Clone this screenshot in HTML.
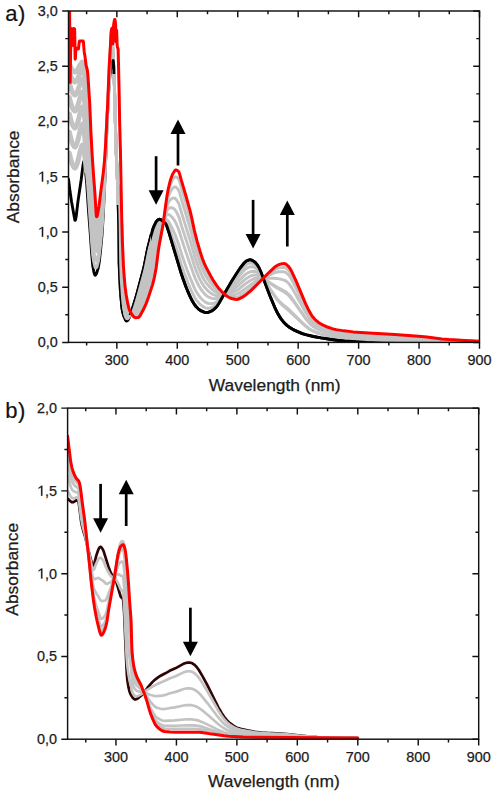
<!DOCTYPE html>
<html><head><meta charset="utf-8"><title>Absorbance spectra</title><style>html,body{margin:0;padding:0;background:#fff;}body{width:495px;height:795px;overflow:hidden;font-family:"Liberation Sans",sans-serif;}svg{display:block;}</style></head><body>
<svg width="495" height="795" viewBox="0 0 495 795">
<defs><clipPath id="ca"><rect x="68.5" y="11.0" width="411" height="331.4"/></clipPath>
<clipPath id="cblk"><rect x="151" y="0" width="400" height="400"/><rect x="111.5" y="56" width="4" height="18"/></clipPath>
<clipPath id="cthin"><rect x="116" y="205" width="8" height="112"/><rect x="128.5" y="215" width="22.5" height="100"/></clipPath>
<clipPath id="cb"><rect x="67.6" y="408.1" width="411.1" height="331.1"/></clipPath></defs>
<g clip-path="url(#ca)" fill="none" stroke-linejoin="round" stroke-linecap="round">
<path d="M68.5,179.2 L70,191.31 L71.5,201.42 L74.75,219.51 L75,220.41 L75.25,220.4 L75.75,218.82 L76.25,215.73 L78,201.09 L81.25,179.18 L83,165.25 L83.75,161.58 L84,161.14 L84.25,161.24 L84.5,162.02 L85.25,167.61 L86.75,184.34 L88.5,210.61 L90.25,233.32 L91.5,251.74 L92.75,265.81 L93.75,271.34 L94.25,273.4 L94.75,274.76 L95,275.11 L95.25,275.2 L95.75,274.87 L96.25,274.05 L96.75,272.85 L98.25,267.81 L99.25,262.04 L100.5,251.05 L102,234.8 L103.25,215.28 L105.25,171.2 L107,125.83 L108.75,90.76 L109.75,77.35 L110.25,72.41 L111,66.83 L111.75,63.14 L112.75,60.84 L113,60.57 L113.25,60.58 L113.75,67.16 L114.25,78.52 L116,147.01 L117.75,187.51 L118.25,201.7 L118.75,224.03 L119.25,262.93 L119.75,278.11 L121,296.71 L121.75,305.2 L122.25,309.3 L123,312.81 L124.25,317.12 L125.25,319.56 L125.75,320.37 L126.25,320.85 L126.5,320.97 L127,320.95 L127.75,320.36 L128.5,319.23 L129.25,317.65 L130.5,314.33 L133.75,304.72 L135.25,299.83 L137.5,291.83 L143.25,270.28 L144.5,264.83 L147.75,248.46 L151,235.63 L152.75,229.51 L153.5,227.44 L154.75,224.57 L155.75,222.57 L156.5,221.37 L157.25,220.52 L158.25,219.8 L159,219.41 L159.75,219.31 L160.25,219.44 L161,219.87 L165,222.84 L166,224.05 L166.75,225.73 L169,232.5 L181.5,274.3 L183.75,280.87 L185.75,286.26 L188.25,292.43 L190.25,296.96 L191.5,299.44 L193.5,302.92 L195,305.23 L196.25,306.82 L198.25,308.77 L200,310.15 L201.25,310.89 L203.5,311.85 L205,312.35 L206.5,312.59 L207.5,312.54 L208.75,312.21 L211,311.28 L212.5,310.4 L214.25,309.05 L216,307.37 L217.25,305.77 L218.75,303.43 L222.75,296.41 L232,280.82 L237.25,272.44 L240.25,268 L244,263.25 L245.75,261.47 L246.5,261 L248.5,260.14 L249.5,259.87 L250.5,259.81 L251.25,259.96 L252.25,260.4 L254,261.5 L255,262.3 L257,264.65 L259,267.78 L261,272.27 L270,295.93 L274.5,306.8 L277.5,313.11 L279.25,316.08 L281.25,319.11 L283.25,321.72 L285,323.6 L287.25,325.62 L289.75,327.5 L292.25,329.06 L294.75,330.37 L302.25,333.57 L306.75,334.94 L313.5,336.51 L321,337.9 L330,339.29 L337.25,340.21 L344.75,340.95 L366.5,342.54 L382,343.14 L397.75,343.48 L479.5,343.8" stroke="#000" stroke-width="2.9"/>
<path d="M69.4,153.18 L70.9,159.84 L72.15,164.01 L72.9,165.55 L73.9,167.18 L74.65,167.91 L75.15,167.97 L75.65,167.44 L76.15,166.42 L77.65,162.18 L79.9,152.43 L81.65,146.33 L82.15,145.25 L82.4,145.02 L82.65,145.05 L82.9,145.37 L83.4,146.81 L84.15,150.75 L85.15,158.63 L87.65,185.12 L91.65,242.87 L92.65,254.68 L93.65,261.47 L94.65,266.05 L95.15,267.4 L95.4,267.88 L95.65,268.06 L96.4,267.71 L96.9,267.02 L98.4,261.4 L99.15,256.96 L100.9,241.45 L102.15,227.72 L102.9,216.79 L104.15,192.54 L105.4,164.99 L106.9,127.05 L108.9,87.17 L109.9,73.59 L111.15,62.51 L111.4,60.99 L111.9,59.6 L112.4,58.94 L112.65,58.84 L112.9,59.38 L113.65,65.5 L113.9,69.84 L114.65,93.65 L115.9,142.6 L117.9,192.3 L118.65,219.07 L119.4,265.19 L119.65,275.62 L120.15,286.34 L120.65,292.06 L121.65,295.34 L122.65,305.15 L123.4,309.43 L124.4,313.75 L125.15,316.17 L126.15,318.22 L126.65,318.67 L127.65,318.74 L127.9,318.65 L128.9,317.44 L129.65,316.04 L133.65,306.18 L135.9,299.57 L138.4,291.36 L143.4,273.68 L144.65,268.37 L147.15,256.16 L148.4,250.88 L151.9,237.77 L152.9,234.52 L153.9,231.78 L155.4,228.14 L156.65,225.5 L158.15,223.05 L159.15,221.97 L159.65,221.64 L160.65,221.41 L162.65,221.72 L164.9,221.59 L165.9,221.88 L166.65,222.74 L168.15,225.79 L169.15,228.2 L174.9,243.95 L178.4,254.77 L181.4,264.63 L184.15,272.75 L188.15,283.34 L191.4,290.95 L194.65,297.41 L196.15,299.79 L197.65,301.71 L199.4,303.67 L200.9,305.04 L203.4,306.74 L205.4,307.78 L206.4,308.12 L207.65,308.29 L209.15,308.17 L211.4,307.69 L212.65,307.21 L214.15,306.4 L215.65,305.38 L216.65,304.48 L219.15,301.36 L232.15,282.39 L238.65,273.18 L241.4,269.6 L244.4,266.09 L245.9,264.72 L247.15,264.01 L248.9,263.26 L249.9,263 L250.9,262.95 L252.65,263.46 L254.9,264.65 L256.65,266.25 L258.4,268.36 L259.9,270.86 L263.15,278.04 L264.65,280.8 L266.9,284.23 L270.65,290.36 L275.4,297.43 L277.4,300.08 L280.15,303.09 L282.9,305.74 L289.65,311.36 L302.4,323.5 L305.4,326.15 L308.9,328.76 L311.4,330.37 L314.15,331.74 L317.4,333.03 L320.9,334.13 L324.9,335.15 L330.4,336.32 L335.15,337.12 L347.4,338.51 L365.4,339.87 L385.65,340.76 L425.65,341.84 L444.15,342.51 L479.4,343.12" stroke="#c3c3c3" stroke-width="2.9"/>
<path d="M69.4,153.18 L70.9,159.84 L72.15,164.01 L72.9,165.55 L73.9,167.18 L74.65,167.91 L75.15,167.97 L75.4,167.78 L75.9,166.98 L77.4,162.94 L78.15,160.28 L79.9,152.43 L81.4,147.1 L82.15,145.25 L82.4,145.02 L82.65,145.05 L82.9,145.37 L83.4,146.81 L84.4,152.47 L85.4,160.96 L86.4,171.26" stroke="#c3c3c3" stroke-width="5"/>
<path d="M69.4,132.18 L70.9,138.84 L72.15,143.01 L72.9,144.55 L73.9,146.18 L74.65,146.91 L75.15,146.97 L75.65,146.44 L76.15,145.42 L77.65,141.18 L79.9,131.43 L81.65,125.33 L82.15,124.25 L82.4,124.02 L82.65,124.06 L82.9,124.45 L83.4,126.19 L84.15,130.9 L84.9,137.62 L87.65,170.11 L89.65,198.38 L91.65,230 L92.65,242.42 L93.9,251.79 L95.15,258.22 L95.4,259.18 L95.9,260.14 L96.4,260.64 L96.65,260.72 L96.9,260.41 L98.4,254.56 L99.15,250.03 L101.15,232.3 L102.4,218.48 L103.15,207.16 L104.4,183.86 L105.65,156.97 L106.9,125.84 L108.4,94.63 L109.15,81.42 L110.15,67.88 L111.15,58.34 L111.4,56.63 L111.65,55.95 L112.65,56.24 L112.9,57.12 L113.15,59.2 L113.9,70.29 L114.65,93.65 L115.9,142.6 L117.9,192.3 L118.65,219.07 L119.4,265.19 L119.65,275.62 L120.15,287.02 L120.4,290.68 L120.65,292.06 L120.9,290.91 L121.4,285.87 L121.65,284.73 L121.9,286.3 L122.65,297.65 L123.9,306.58 L124.65,310.31 L125.65,313.89 L126.4,315.55 L127.4,316.6 L128.15,316.59 L128.9,316.24 L129.9,314.92 L130.9,313.08 L134.4,305.89 L137.9,296.33 L143.65,277.55 L147.65,260.04 L151.9,244.31 L153.65,238.86 L157.65,228.05 L158.9,225.49 L160.15,223.94 L160.9,223.38 L162.9,222.24 L165.4,219.71 L166.65,219.45 L167.15,219.77 L168.15,220.94 L169.65,223.32 L172.65,229.1 L175.15,234.77 L178.65,244.38 L181.9,254.97 L185.9,266.64 L190.15,277.92 L194.65,288.64 L195.9,291.05 L197.15,293.13 L198.9,295.73 L200.4,297.68 L201.9,299.28 L204.15,301.29 L205.65,302.35 L206.9,302.98 L208.9,303.46 L210.4,303.61 L212.15,303.58 L213.65,303.28 L215.15,302.77 L216.15,302.27 L217.15,301.58 L219.4,299.41 L226.15,291.8 L240.15,274.78 L244.4,270.06 L245.9,268.74 L248.4,267.37 L250.4,266.68 L251.9,266.69 L254.15,267.28 L255.4,267.85 L257.15,269.14 L258.9,270.89 L260.4,273.1 L264.15,279.76 L270.9,290.19 L276.4,297.92 L277.9,299.69 L280.4,302.27 L282.65,304.38 L285.9,306.95 L289.65,310.17 L302.65,322.99 L305.9,325.94 L309.4,328.62 L311.9,330.24 L315.15,331.82 L318.65,333.15 L322.4,334.27 L326.9,335.36 L331.65,336.34 L335.9,337.02 L347.9,338.36 L365.65,339.7 L384.65,340.54 L425.4,341.7 L444.4,342.42 L479.4,343.07" stroke="#c3c3c3" stroke-width="2.9"/>
<path d="M69.4,132.18 L70.9,138.84 L72.15,143.01 L72.9,144.55 L73.9,146.18 L74.65,146.91 L75.15,146.97 L75.4,146.78 L75.9,145.98 L77.4,141.94 L78.15,139.28 L79.9,131.43 L81.4,126.1 L82.15,124.25 L82.4,124.02 L82.65,124.06 L82.9,124.45 L83.4,126.19 L84.4,132.95 L85.4,142.93 L86.4,154.77" stroke="#c3c3c3" stroke-width="5"/>
<path d="M69.4,113.93 L70.9,120.25 L72.15,124.21 L72.9,125.67 L73.9,127.22 L74.65,127.91 L75.15,127.97 L75.65,127.49 L76.15,126.56 L77.65,122.68 L79.9,113.79 L81.4,108.91 L81.9,107.64 L82.4,107.02 L82.65,107.06 L82.9,107.41 L83.65,110.21 L84.4,115.21 L85.15,121.92 L87.65,150.11 L89.65,178.66 L91.65,212.84 L92.65,226.07 L93.65,235.18 L95.4,247.49 L96.4,251.44 L96.65,251.71 L96.9,251.4 L98.15,246.63 L99.15,240.8 L101.4,221.07 L102.65,207.48 L103.9,188.15 L104.9,169.88 L106.9,124.21 L109.4,74.67 L110.4,60.81 L111.4,51.21 L111.65,50.45 L111.9,50.63 L112.4,51.86 L112.9,54.49 L113.15,57.44 L113.65,65.5 L114.15,77.59 L115.9,142.6 L116.65,163.07 L117.65,185.23 L118.15,200.21 L118.65,219.07 L119.4,265.19 L119.65,275.62 L120.15,287.02 L120.4,290.68 L120.65,292.06 L120.9,288.7 L121.4,273.94 L121.65,270.58 L121.9,272.66 L122.65,287.67 L123.4,295.63 L124.15,301.48 L125.15,307.17 L126.15,310.92 L126.65,312.19 L127.4,313.6 L128.4,314.51 L129.15,314.49 L129.9,314.14 L131.15,312.73 L133.65,309.44 L135.4,306.28 L138.4,299.48 L139.65,296.07 L143.65,284.01 L148.9,263.55 L152.15,252.19 L155.9,240.21 L158.65,230.52 L160.15,227.22 L162.9,222.92 L165.4,217.22 L166.4,215.36 L167.4,214.61 L168.65,214.53 L169.15,214.7 L169.9,215.21 L171.4,216.5 L172.65,217.83 L173.9,219.56 L175.65,222.5 L178.15,228.2 L179.15,230.92 L183.4,244.63 L187.9,257.87 L194.15,275.65 L195.65,279.33 L197.15,282.5 L199.15,286.29 L200.65,288.81 L202.15,290.95 L204.15,293.44 L205.65,294.97 L207.15,296.16 L208.65,297.02 L210.65,297.93 L211.9,298.38 L213.15,298.66 L215.65,298.76 L217.15,298.43 L219.15,297.45 L225.4,293.14 L229.15,290.12 L237.15,282.78 L241.4,278.34 L244.4,275.36 L245.65,274.27 L248.4,272.6 L250.4,271.71 L252.4,271.39 L254.9,271.47 L257.15,272.26 L259.15,273.5 L260.15,274.48 L263.15,278.14 L264.65,279.49 L266.9,280.93 L270.65,283.68 L276.65,287.73 L285.15,292.55 L288.15,294.98 L289.9,296.77 L292.65,300.25 L305.15,318.01 L307.9,321.38 L310.15,323.89 L312.65,326.13 L316.15,328.43 L319.65,330.14 L323.9,331.7 L331.4,333.75 L337.65,334.88 L347.9,336.08 L362.4,337.27 L378.15,338.14 L423.9,340.07 L445.9,341.45 L479.4,342.5" stroke="#c3c3c3" stroke-width="2.9"/>
<path d="M69.4,113.93 L70.9,120.25 L72.15,124.21 L72.9,125.67 L73.9,127.22 L74.65,127.91 L75.15,127.97 L75.4,127.8 L75.9,127.07 L77.4,123.38 L78.15,120.95 L79.9,113.79 L81.4,108.91 L82.15,107.23 L82.4,107.02 L82.65,107.06 L82.9,107.41 L83.4,109 L84.4,115.21 L85.4,124.45 L86.4,135.52" stroke="#c3c3c3" stroke-width="5"/>
<path d="M69.4,97.67 L70.9,103.65 L72.15,107.41 L72.9,108.79 L73.9,110.27 L74.65,110.92 L75.15,110.97 L75.65,110.54 L76.15,109.7 L77.65,106.19 L79.9,98.14 L81.4,93.73 L81.9,92.58 L82.4,92.02 L82.65,92.05 L82.9,92.38 L83.65,94.96 L84.4,99.61 L85.4,108.23 L87.9,135.8 L89.65,161.41 L91.65,197.82 L92.9,214.6 L93.65,222.04 L95.65,239.09 L96.4,243.37 L96.65,243.82 L96.9,243.52 L98.15,238.7 L99.15,232.72 L101.65,211.08 L102.9,197.71 L104.15,179.47 L105.15,161.96 L106.9,122.79 L109.65,67.93 L110.4,56.98 L111.15,48.55 L111.4,46.46 L111.65,45.63 L111.9,45.97 L112.4,48.18 L112.9,52.17 L113.65,65.5 L114.15,77.93 L115.9,142.6 L116.65,163.07 L117.65,185.23 L118.15,200.21 L118.65,219.07 L119.4,265.19 L119.65,275.62 L120.15,287.02 L120.4,290.68 L120.65,292.06 L120.9,286.77 L121.4,263.49 L121.65,258.2 L121.9,260.71 L122.4,273.51 L122.9,282.58 L123.65,291.32 L124.4,297.76 L125.4,304.06 L126.4,308.16 L127.65,311.48 L128.4,312.72 L129.15,313.29 L129.9,313.41 L130.9,312.99 L133.15,311.48 L134.15,310.56 L135.15,309.24 L136.9,306.29 L138.4,303.54 L139.4,301.27 L142.9,291.88 L144.65,286.39 L148.15,273.46 L155.15,249.69 L156.65,243.65 L158.15,236.53 L159.4,232.17 L160.65,228.84 L162.9,223.52 L165.9,213.4 L166.9,210.72 L167.9,209.13 L168.9,208.15 L169.4,207.87 L170.15,207.68 L171.4,207.67 L172.15,207.79 L172.9,208.1 L174.4,209.2 L175.15,209.98 L176.4,211.92 L178.65,216.41 L179.65,219.32 L181.4,225.35 L183.65,232.42 L191.15,255.33 L194.4,265.97 L196.65,272 L199.9,279.31 L201.4,282.17 L203.15,285.07 L204.65,287.26 L206.15,289.08 L207.9,290.8 L210.4,292.77 L212.15,293.96 L213.65,294.74 L215.15,295.3 L216.4,295.61 L218.65,295.58 L220.4,295.19 L223.4,294.26 L226.9,292.95 L231.15,290.61 L237.15,286.54 L245.15,279.35 L248.9,276.88 L251.15,275.79 L254.15,275 L255.9,274.87 L257.65,275.08 L258.9,275.39 L260.15,276.01 L264.15,278.88 L270.65,283.15 L276.9,286.96 L284.9,291.19 L286.65,292.47 L289.15,294.74 L291.65,297.79 L295.9,303.75 L304.9,317.03 L308.15,321.14 L310.65,323.95 L311.9,325.13 L313.4,326.3 L316.9,328.52 L320.65,330.27 L325.15,331.83 L332.15,333.7 L338.65,334.81 L348.65,335.96 L362.9,337.11 L377.9,337.94 L423.4,339.9 L446.15,341.37 L479.4,342.45" stroke="#c3c3c3" stroke-width="2.9"/>
<path d="M69.4,97.67 L70.9,103.65 L72.15,107.41 L72.9,108.79 L73.9,110.27 L74.65,110.92 L75.15,110.97 L75.9,110.16 L77.4,106.82 L78.15,104.62 L79.9,98.14 L81.4,93.73 L82.15,92.21 L82.4,92.02 L82.65,92.05 L82.9,92.38 L83.4,93.85 L84.4,99.61 L85.4,108.23 L86.4,118.66" stroke="#c3c3c3" stroke-width="5"/>
<path d="M69.4,83.15 L70.9,88.47 L72.15,91.8 L73.65,94.06 L74.4,94.79 L74.9,94.99 L75.4,94.85 L75.9,94.29 L77.65,90.95 L80.15,83.51 L81.4,80.46 L82.15,79.18 L82.4,79.02 L82.65,79.05 L83.15,79.84 L83.65,81.53 L84.15,84.02 L84.9,89.03 L85.65,95.25 L87.65,115.1 L89.65,144.15 L91.15,174.21 L92.4,194.12 L93.4,206.24 L95.4,227.07 L96.15,233.71 L96.4,235.3 L96.65,235.94 L96.9,235.64 L97.15,234.9 L97.9,231.92 L98.65,228.08 L99.15,224.64 L102.15,199.05 L103.4,185.23 L104.4,171.43 L105.4,154.39 L106.65,126.48 L109.9,60.83 L111.15,43.98 L111.4,41.71 L111.65,40.82 L111.9,41.32 L112.4,44.52 L112.9,49.85 L113.65,65.5 L114.4,85.62 L115.9,142.6 L116.65,163.07 L117.65,185.23 L118.15,200.21 L118.65,219.07 L119.4,265.19 L119.65,275.62 L120.15,287.02 L120.4,290.68 L120.65,292.06 L120.9,284.83 L121.4,253.05 L121.65,245.83 L121.9,248.77 L122.4,263.8 L122.9,274.52 L123.65,284.9 L124.4,292.43 L125.4,299.8 L126.65,305.71 L127.4,308.34 L128.15,310.35 L128.9,311.74 L129.65,312.57 L130.4,312.85 L131.4,312.98 L133.4,312.78 L134.65,312.13 L135.9,310.86 L138.15,307.95 L139.15,306.27 L143.15,296.68 L145.15,290.79 L154.4,259.66 L156.4,251 L158.65,238.59 L160.15,232.97 L162.9,224.12 L166.15,209.44 L166.9,206.57 L168.4,202.61 L169.15,201.26 L169.9,200.23 L170.9,199.21 L172.15,198.31 L172.65,198.11 L173.9,198.06 L174.9,198.25 L175.9,199.05 L178.15,202.43 L179.15,204.63 L181.65,213.08 L190.4,241.09 L194.9,257.29 L197.9,265.92 L200.9,273.34 L202.4,276.45 L204.15,279.69 L205.65,282.06 L207.15,284.07 L210.4,287.71 L212.4,289.7 L214.4,291.3 L216.65,292.68 L218.15,293.28 L219.65,293.63 L221.9,293.88 L224.65,293.99 L227.9,293.75 L231.65,292.69 L235.4,291.14 L237.9,289.85 L245.65,283.64 L250.4,280.48 L254.4,278.5 L256.65,277.82 L258.4,277.52 L259.65,277.52 L264.15,278.34 L273.9,278.28 L279.4,278.92 L284.15,280.15 L285.15,280.54 L287.15,282.02 L288.65,283.4 L289.65,284.58 L291.9,287.87 L294.9,292.93 L305.65,312.51 L309.4,318.28 L311.9,321.45 L313.4,322.91 L315.15,324.38 L318.65,326.7 L322.9,328.74 L328.4,330.67 L333.65,332.09 L339.9,333.15 L348.4,334.16 L360.15,335.18 L371.65,335.92 L396.15,337.11 L421.15,338.51 L447.4,340.65 L479.4,342" stroke="#c3c3c3" stroke-width="2.9"/>
<path d="M69.4,83.15 L70.9,88.47 L72.15,91.8 L72.9,93.04 L73.9,94.35 L74.65,94.93 L75.15,94.98 L75.65,94.61 L76.15,93.9 L77.65,90.95 L79.9,84.17 L81.65,79.93 L82.15,79.18 L82.4,79.02 L82.65,79.05 L82.9,79.32 L83.65,81.53 L84.4,85.54 L85.4,93.07 L86.4,102.33" stroke="#c3c3c3" stroke-width="5"/>
<path d="M69.4,71.63 L70.65,75.59 L71.9,78.72 L72.4,79.62 L73.4,80.9 L74.15,81.64 L74.65,81.93 L75.15,81.98 L75.65,81.68 L76.4,80.75 L77.4,79.14 L78.15,77.64 L80.15,72.67 L81.4,70.19 L82.15,69.14 L82.65,69.03 L82.9,69.23 L83.4,70.15 L84.15,72.7 L84.9,76.47 L86.4,86.92 L87.9,100.47 L89.65,126.9 L90.9,154.08 L92.4,179.59 L95.65,219.78 L96.15,225.19 L96.4,227.24 L96.65,228.05 L96.9,227.76 L97.15,227.03 L97.9,224.04 L98.65,220.06 L99.15,216.56 L102.65,187.44 L104.15,170.75 L105.65,147.1 L109.4,67.11 L110.15,53.28 L111.4,36.97 L111.65,36 L111.9,36.67 L112.4,40.88 L112.9,47.52 L114.4,85.71 L115.9,142.6 L116.65,163.07 L117.65,185.23 L118.15,200.21 L118.65,219.07 L119.65,275.62 L120.4,290.68 L120.65,292.06 L120.9,282.9 L121.4,242.61 L121.65,233.45 L121.9,236.83 L122.65,261.45 L123.15,270.93 L124.15,284.5 L125.15,293.7 L126.4,301.29 L127.4,305.71 L128.15,308.34 L128.9,310.32 L129.65,311.7 L130.4,312.48 L131.65,313.44 L133.4,314.3 L134.9,314.25 L136.15,313.5 L138.65,311.38 L139.9,309.28 L142.4,303.89 L143.9,300.37 L145.15,297 L152.15,275.11 L153.4,270.82 L154.65,265.88 L156.4,257.25 L158.65,242.63 L160.15,235.85 L162.9,224.71 L166.4,204.87 L167.9,198.39 L168.65,195.91 L169.65,193.3 L170.65,191.25 L171.9,189.21 L172.65,188.25 L174.15,187.11 L174.65,186.9 L175.65,186.95 L176.15,187.25 L176.9,188.02 L178.4,189.9 L178.9,190.84 L179.65,192.96 L181.4,199.16 L190.15,228.28 L191.65,233.88 L194.15,244.35 L195.65,249.75 L199.4,261.33 L202.15,268.46 L204.15,272.82 L205.9,276.03 L207.9,279.13 L211.9,284.67 L213.9,287.03 L216.4,289.52 L218.65,291.26 L220.9,292.55 L223.15,293.58 L225.4,294.4 L227.15,294.9 L228.4,295.09 L230.65,295.16 L231.9,295.06 L234.9,294.58 L237.4,293.96 L238.65,293.32 L241.9,291.11 L254.4,282.05 L258.4,279.82 L259.9,279.22 L263.9,277.99 L272.9,273.47 L274.9,272.66 L277.9,271.9 L279.4,271.65 L282.15,271.71 L284.4,271.92 L285.15,272.14 L286.15,272.73 L288.65,274.98 L289.9,276.61 L291.65,279.46 L296.15,288.17 L305.65,308.2 L309.15,314.49 L311.65,318.27 L313.15,320.01 L314.9,321.73 L316.65,323.2 L318.4,324.44 L320.4,325.64 L322.65,326.78 L327.9,328.86 L333.15,330.48 L338.15,331.45 L346.15,332.53 L356.65,333.55 L368.4,334.39 L395.4,335.83 L419.65,337.41 L427.4,338.02 L441.4,339.56 L448.15,340.1 L479.4,341.65" stroke="#c3c3c3" stroke-width="2.9"/>
<path d="M69.4,71.63 L70.9,76.29 L72.15,79.2 L73.9,81.43 L74.65,81.93 L75.15,81.98 L75.65,81.68 L76.15,81.11 L77.65,78.71 L79.9,73.2 L81.65,69.75 L82.15,69.14 L82.4,69.01 L82.65,69.03 L82.9,69.23 L83.65,70.85 L84.65,75.09 L85.4,79.58 L86.4,86.92" stroke="#c3c3c3" stroke-width="5"/>
<path d="M69.4,63.85 L70.9,67.51 L72.15,69.8 L73.9,71.55 L74.65,71.95 L75.15,71.99 L75.65,71.76 L76.15,71.31 L77.65,69.47 L79.9,65.23 L81.65,62.58 L82.4,62.01 L82.9,62.15 L83.65,63.18 L84.65,65.99 L85.4,69.08 L86.4,74.36 L87.65,82.59 L87.9,85.21 L89.65,112.11 L90.9,140.77 L92.4,167.15 L93.4,181.26 L94.65,196.47 L95.9,214.7 L96.4,220.32 L96.65,221.3 L96.9,221.01 L97.15,220.28 L97.9,217.28 L98.9,211.52 L102.65,181.71 L104.4,164.08 L105.65,145.05 L107.65,104.63 L110.15,50.26 L111.4,32.9 L111.65,31.87 L111.9,32.68 L112.4,37.75 L112.9,45.54 L114.4,85.79 L115.9,142.6 L116.65,163.07 L117.65,185.23 L118.15,200.21 L118.65,219.07 L119.65,275.62 L120.4,290.68 L120.65,292.06 L120.9,281.24 L121.4,233.65 L121.65,222.84 L121.9,226.59 L122.65,253.95 L123.15,264.55 L124.15,279.66 L125.4,291.9 L126.15,296.94 L127.15,302.27 L128.15,306.61 L128.9,309.11 L129.65,310.96 L130.4,312.16 L131.9,314.12 L133.4,315.57 L134.4,316.13 L135.65,316.16 L136.15,316.04 L138.65,314.96 L139.15,314.43 L139.9,313.27 L143.15,306.92 L145.65,301.05 L147.9,294.75 L152.15,281.66 L153.9,275.31 L155.65,267.04 L156.65,260.94 L158.65,246.09 L160.15,238.31 L162.9,225.22 L166.65,200.3 L168.15,192.66 L169.9,186.32 L170.9,183.59 L172.15,180.74 L172.9,179.41 L174.4,177.46 L175.15,176.94 L175.65,176.79 L176.15,176.93 L176.9,177.38 L178.4,178.79 L178.9,179.6 L179.65,181.66 L181.4,187.94 L186.4,204.73 L190.15,218.01 L191.65,224.01 L194.4,236.46 L196.65,244.89 L200.4,257.16 L201.9,261.38 L203.65,265.78 L205.65,270.07 L207.9,274.13 L212.15,281.14 L215.15,285.35 L217.9,288.62 L220.4,291.05 L223.4,293.43 L226.65,295.52 L228.9,296.49 L231.65,297.14 L235.9,297.34 L237.65,297.18 L238.4,296.89 L242.4,294.58 L246.9,291.42 L250.4,288.62 L254.9,284.65 L258.4,281.79 L274.15,270.03 L277.15,268.55 L279.4,267.75 L282.4,267.45 L284.65,267.49 L285.4,267.75 L286.15,268.2 L288.65,270.46 L289.9,272.16 L291.65,275.17 L296.15,284.43 L305.65,305.9 L309.15,312.65 L311.65,316.72 L313.15,318.57 L314.9,320.41 L316.65,321.99 L318.4,323.31 L320.4,324.58 L322.4,325.67 L327.65,327.88 L332.65,329.54 L337.15,330.5 L345.15,331.67 L355.15,332.69 L366.65,333.56 L395.15,335.15 L418.9,336.81 L427.15,337.51 L441.4,339.19 L448.65,339.82 L479.4,341.46" stroke="#c3c3c3" stroke-width="2.9"/>
<path d="M69.4,63.85 L70.9,67.51 L72.15,69.8 L73.9,71.55 L74.65,71.95 L75.15,71.99 L75.65,71.76 L76.15,71.31 L77.65,69.47 L79.9,65.23 L81.65,62.58 L82.4,62.01 L82.9,62.15 L83.65,63.18 L84.65,65.99 L85.4,69.08 L86.4,74.36" stroke="#c3c3c3" stroke-width="5"/>
<path d="M68.5,179.2 L70,191.31 L71.5,201.42 L74.75,219.51 L75,220.41 L75.25,220.4 L75.75,218.82 L76.25,215.73 L78,201.09 L81.25,179.18 L83,165.25 L83.75,161.58 L84,161.14 L84.25,161.24 L84.5,162.02 L85.25,167.61 L86.75,184.34 L88.5,210.61 L90.25,233.32 L91.5,251.74 L92.75,265.81 L93.75,271.34 L94.25,273.4 L94.75,274.76 L95,275.11 L95.25,275.2 L95.75,274.87 L96.25,274.05 L96.75,272.85 L98.25,267.81 L99.25,262.04 L100.5,251.05 L102,234.8 L103.25,215.28 L105.25,171.2 L107,125.83 L108.75,90.76 L109.75,77.35 L110.25,72.41 L111,66.83 L111.75,63.14 L112.75,60.84 L113,60.57 L113.25,60.58 L113.75,67.16 L114.25,78.52 L116,147.01 L117.75,187.51 L118.25,201.7 L118.75,224.03 L119.25,262.93 L119.75,278.11 L121,296.71 L121.75,305.2 L122.25,309.3 L123,312.81 L124.25,317.12 L125.25,319.56 L125.75,320.37 L126.25,320.85 L126.5,320.97 L127,320.95 L127.75,320.36 L128.5,319.23 L129.25,317.65 L130.5,314.33 L133.75,304.72 L135.25,299.83 L137.5,291.83 L143.25,270.28 L144.5,264.83 L147.75,248.46 L151,235.63 L152.75,229.51 L153.5,227.44 L154.75,224.57 L155.75,222.57 L156.5,221.37 L157.25,220.52 L158.25,219.8 L159,219.41 L159.75,219.31 L160.25,219.44 L161,219.87 L165,222.84 L166,224.05 L166.75,225.73 L169,232.5 L181.5,274.3 L183.75,280.87 L185.75,286.26 L188.25,292.43 L190.25,296.96 L191.5,299.44 L193.5,302.92 L195,305.23 L196.25,306.82 L198.25,308.77 L200,310.15 L201.25,310.89 L203.5,311.85 L205,312.35 L206.5,312.59 L207.5,312.54 L208.75,312.21 L211,311.28 L212.5,310.4 L214.25,309.05 L216,307.37 L217.25,305.77 L218.75,303.43 L222.75,296.41 L232,280.82 L237.25,272.44 L240.25,268 L244,263.25 L245.75,261.47 L246.5,261 L248.5,260.14 L249.5,259.87 L250.5,259.81 L251.25,259.96 L252.25,260.4 L254,261.5 L255,262.3 L257,264.65 L259,267.78 L261,272.27 L270,295.93 L274.5,306.8 L277.5,313.11 L279.25,316.08 L281.25,319.11 L283.25,321.72 L285,323.6 L287.25,325.62 L289.75,327.5 L292.25,329.06 L294.75,330.37 L302.25,333.57 L306.75,334.94 L313.5,336.51 L321,337.9 L330,339.29 L337.25,340.21 L344.75,340.95 L366.5,342.54 L382,343.14 L397.75,343.48 L479.5,343.8" stroke="#000" stroke-width="2.9" clip-path="url(#cblk)"/>
<path d="M68.5,179.2 L70,191.31 L71.5,201.42 L74.75,219.51 L75,220.41 L75.25,220.4 L75.75,218.82 L76.25,215.73 L78,201.09 L81.25,179.18 L83,165.25 L83.75,161.58 L84,161.14 L84.25,161.24 L84.5,162.02 L85.25,167.61 L86.75,184.34 L88.5,210.61 L90.25,233.32 L91.5,251.74 L92.75,265.81 L93.75,271.34 L94.25,273.4 L94.75,274.76 L95,275.11 L95.25,275.2 L95.75,274.87 L96.25,274.05 L96.75,272.85 L98.25,267.81 L99.25,262.04 L100.5,251.05 L102,234.8 L103.25,215.28 L105.25,171.2 L107,125.83 L108.75,90.76 L109.75,77.35 L110.25,72.41 L111,66.83 L111.75,63.14 L112.75,60.84 L113,60.57 L113.25,60.58 L113.75,67.16 L114.25,78.52 L116,147.01 L117.75,187.51 L118.25,201.7 L118.75,224.03 L119.25,262.93 L119.75,278.11 L121,296.71 L121.75,305.2 L122.25,309.3 L123,312.81 L124.25,317.12 L125.25,319.56 L125.75,320.37 L126.25,320.85 L126.5,320.97 L127,320.95 L127.75,320.36 L128.5,319.23 L129.25,317.65 L130.5,314.33 L133.75,304.72 L135.25,299.83 L137.5,291.83 L143.25,270.28 L144.5,264.83 L147.75,248.46 L151,235.63 L152.75,229.51 L153.5,227.44 L154.75,224.57 L155.75,222.57 L156.5,221.37 L157.25,220.52 L158.25,219.8 L159,219.41 L159.75,219.31 L160.25,219.44 L161,219.87 L165,222.84 L166,224.05 L166.75,225.73 L169,232.5 L181.5,274.3 L183.75,280.87 L185.75,286.26 L188.25,292.43 L190.25,296.96 L191.5,299.44 L193.5,302.92 L195,305.23 L196.25,306.82 L198.25,308.77 L200,310.15 L201.25,310.89 L203.5,311.85 L205,312.35 L206.5,312.59 L207.5,312.54 L208.75,312.21 L211,311.28 L212.5,310.4 L214.25,309.05 L216,307.37 L217.25,305.77 L218.75,303.43 L222.75,296.41 L232,280.82 L237.25,272.44 L240.25,268 L244,263.25 L245.75,261.47 L246.5,261 L248.5,260.14 L249.5,259.87 L250.5,259.81 L251.25,259.96 L252.25,260.4 L254,261.5 L255,262.3 L257,264.65 L259,267.78 L261,272.27 L270,295.93 L274.5,306.8 L277.5,313.11 L279.25,316.08 L281.25,319.11 L283.25,321.72 L285,323.6 L287.25,325.62 L289.75,327.5 L292.25,329.06 L294.75,330.37 L302.25,333.57 L306.75,334.94 L313.5,336.51 L321,337.9 L330,339.29 L337.25,340.21 L344.75,340.95 L366.5,342.54 L382,343.14 L397.75,343.48 L479.5,343.8" stroke="#000" stroke-width="1.5" transform="translate(-0.8,0)" clip-path="url(#cthin)"/>
<path d="M69.4,0 L69.65,16.05 L69.9,61.25 L70.15,82.47 L70.65,48.7 L70.9,40.05 L71.4,32.24 L71.65,29.82 L71.9,28.61 L72.15,29.56 L72.9,45.51 L73.15,44.39 L73.65,30.11 L73.9,28.51 L74.65,28.94 L75.15,59.14 L75.4,58.12 L75.9,48.52 L76.15,48.01 L77.9,48.92 L78.15,48.99 L78.4,48.84 L79.4,41.16 L79.65,41 L83.15,41 L83.4,42.09 L84.15,51.2 L85.15,57.64 L86.15,65.73 L87.4,70.5 L87.9,75.67 L89.65,102.25 L90.9,132.07 L92.15,154.81 L93.4,173.67 L94.9,193 L96.15,213.87 L96.4,216.17 L96.65,216.79 L96.9,216.51 L97.4,214.96 L98.9,206.95 L100.65,192.61 L103.15,173.87 L104.15,164.48 L104.9,155.68 L105.65,143.69 L107.9,98.97 L109.15,67.09 L110.4,46 L110.9,34.54 L111.15,31.69 L111.65,29.12 L111.9,28.35 L112.15,28.01 L112.4,31.17 L112.9,44 L113.15,39.75 L113.65,24.55 L114.4,20.18 L114.65,19.6 L114.9,19.57 L115.15,20.37 L115.65,25.28 L115.9,41.08 L116.15,41.81 L116.4,33.63 L116.65,30.29 L117.15,45.37 L117.4,47.1 L117.9,48.36 L118.15,49.61 L119.15,92.5 L119.65,122.62 L120.4,150 L121.65,215.77 L122.4,241.9 L123.4,265.4 L124.15,276.29 L125.15,287.33 L126.15,294.8 L127.65,303.19 L128.65,307.44 L129.65,310.46 L131.9,314.46 L132.9,315.84 L133.9,316.89 L134.65,317.41 L135.4,317.68 L137.9,317.51 L138.9,317.2 L139.9,315.91 L143.4,309.58 L146.15,303.52 L148.65,296.65 L152.65,284.35 L154.4,277.34 L156.15,267.91 L158.4,250 L159.4,244.02 L163.15,224.06 L166.65,198.11 L168.15,189.44 L169.9,182.04 L170.9,178.79 L172.15,175.31 L172.9,173.68 L174.4,171.16 L175.15,170.28 L175.9,170 L177.15,170.43 L178.65,171.67 L179.15,172.65 L179.65,174.12 L181.15,179.65 L185.9,195.73 L189.9,210.2 L191.65,217.42 L194.4,230.57 L197.15,241.31 L200.65,253.32 L202.4,258.45 L204.15,263.01 L206.65,268.41 L211.15,276.8 L213.4,280.67 L216.4,285.17 L219.15,288.79 L221.9,291.82 L225.65,295.21 L228.15,297.01 L230.15,297.99 L231.65,298.51 L234.9,299.18 L237.4,299.4 L238.65,299.07 L242.4,297.13 L246.4,294.47 L250.65,290.9 L268.9,272.56 L274.4,267.33 L277.15,265.5 L279.4,264.38 L282.15,263.79 L284.65,263.62 L285.4,263.84 L286.15,264.28 L288.65,266.55 L289.9,268.32 L291.65,271.44 L296.15,281.19 L305.65,303.9 L309.15,311.06 L311.65,315.37 L312.9,317.03 L314.65,319.02 L316.4,320.71 L318.15,322.14 L320.15,323.51 L322.15,324.67 L327.4,327.02 L332.15,328.69 L336.15,329.64 L343.9,330.86 L353.15,331.88 L364.65,332.8 L394.9,334.56 L418.4,336.29 L426.9,337.05 L441.65,338.91 L448.9,339.56 L460.9,340.32 L479.5,341.3" stroke="#f00" stroke-width="3"/>
</g>
<g clip-path="url(#cb)" fill="none" stroke-linejoin="round" stroke-linecap="round">
<path d="M67.6,498.5 L69.6,500.48 L71.35,501.92 L72.1,502.28 L73.1,502.16 L74.6,501.5 L76.1,500.29 L76.6,500.03 L76.85,500 L77.35,500.24 L78.35,501.6 L78.6,502.44 L79.1,505.43 L81.1,521.32 L81.85,525.4 L83.35,531.23 L85.35,537.44 L87.85,548.38 L90.35,557.28 L91.85,563.33 L92.6,565.35 L92.85,565.68 L93.1,565.8 L93.35,565.68 L93.85,564.82 L94.6,562.38 L96.35,555.44 L98.1,550.23 L98.85,548.42 L99.35,547.64 L100.35,546.94 L100.85,546.95 L101.35,547.3 L102.85,549.45 L103.6,551.19 L108.35,566.45 L110.85,572.89 L111.6,574.39 L112.1,575.1 L112.6,575.52 L114.35,576.37 L114.85,577.1 L120.6,596.4 L121.1,597.2 L122.35,598.17 L122.85,598.9 L123.1,599.87 L123.35,602.04 L124.1,612.13 L126.35,665.28 L126.85,674.38 L127.35,680.09 L128.35,686.59 L129.6,691.88 L130.35,693.8 L131.6,696.09 L132.6,697.6 L133.6,698.71 L134.35,699.22 L134.85,699.38 L135.6,699.36 L136.6,699.07 L138.35,698.03 L141.6,695.33 L143.35,693.4 L147.35,687.93 L152.1,682.37 L155.1,679.57 L159.1,676.68 L161.1,675.49 L165.35,673.31 L169.6,670.86 L175.35,668.33 L183.85,663.62 L184.85,663.24 L187.35,662.62 L188.6,662.5 L189.85,662.62 L191.6,663.03 L192.35,663.34 L194.85,665.12 L196.85,667.2 L198.85,669.95 L202.6,676.32 L207.1,684.67 L218.35,707.3 L221.6,712.99 L224.1,716.83 L226.85,720.15 L229.85,723.09 L233.35,725.7 L236.35,727.39 L238.35,728.14 L240.6,728.8 L247.35,730.29 L255.1,731.72 L261.35,732.5 L267.35,732.93 L281.1,733.58 L287.35,733.99 L300.35,735.66 L310.1,736.58 L317.35,737.1 L338.35,737.77 L357.8,738" stroke="#300404" stroke-width="2.7"/>
<path d="M67.6,490.73 L70.6,496.28 L71.85,497.84 L72.6,498.25 L73.85,498.32 L74.85,498.17 L76.1,497.52 L76.85,497.39 L77.6,497.9 L78.35,498.98 L78.6,499.76 L79.1,502.49 L81.1,517.79 L82.1,523.38 L83.1,527.65 L85.35,536.06 L87.1,545.08 L90.1,558.14 L91.6,565.28 L92.35,568.18 L92.85,569.44 L93.35,569.91 L93.6,569.85 L94.1,569.21 L96.1,563.79 L98.6,558.75 L99.1,558.16 L99.6,557.92 L100.35,557.8 L101.1,558.09 L102.6,559.69 L103.35,560.83 L106.1,567.63 L107.6,570.73 L109.35,573.78 L110.85,575.96 L111.85,576.91 L112.6,577.01 L114.35,576.46 L114.6,576.49 L114.85,576.71 L116.1,579.43 L118.6,584.32 L120.6,589.36 L121.1,589.94 L122.35,590.67 L122.85,591.32 L123.1,592.2 L123.35,594.14 L124.1,603.25 L126.35,651.73 L126.85,660.38 L127.35,666.07 L128.35,673.41 L129.35,679.34 L129.85,681.61 L131.1,686.1 L131.85,690.5 L132.35,692.02 L133.1,693.69 L133.6,694.54 L134.35,695.45 L135.1,695.96 L136.1,696.22 L137.35,696.11 L138.6,695.67 L142.6,693.64 L146.85,690.12 L152.35,686.61 L158.6,683.41 L164.85,680.83 L170.1,678.26 L175.6,676.19 L184.1,672.1 L186.1,671.56 L187.85,671.25 L189.1,671.23 L190.35,671.4 L191.6,671.67 L192.6,672.07 L195.1,673.7 L197.35,675.86 L199.1,678.09 L202.85,683.74 L207.1,690.75 L218.35,710.76 L221.6,715.8 L223.85,718.88 L226.6,721.9 L229.6,724.55 L233.1,726.91 L236.35,728.55 L240.6,729.81 L247.1,731.09 L254.85,732.36 L261.35,733.09 L287.35,734.41 L300.35,735.89 L317.35,737.17 L338.1,737.77 L357.6,738" stroke="#c3c3c3" stroke-width="2.7"/>
<path d="M67.6,475.49 L70.6,486.42 L71.85,489.3 L72.6,490.36 L73.85,491.4 L74.85,491.91 L76.6,492.17 L77.35,492.58 L78.35,493.84 L78.85,495.49 L79.85,501.31 L81.85,515.81 L85.35,533.35 L87.1,544.42 L91.6,570.92 L92.6,575.85 L93.1,577.59 L93.6,578.67 L94.1,579.19 L94.6,579.26 L96.1,578.5 L97.1,578.32 L98.1,577.95 L98.85,578.01 L101.35,579.82 L103.35,581.02 L105.6,583.48 L106.85,583.97 L107.35,583.84 L108.35,583.16 L110.6,582.12 L111.35,581.6 L112.35,580.36 L114.6,576.23 L115.1,575.82 L116.1,575.52 L117.85,574.32 L118.35,574.21 L119.1,574.37 L120.6,575.57 L122.35,575.97 L122.85,576.48 L123.1,577.17 L123.6,580.74 L124.35,589.2 L126.35,625.18 L127.1,636.08 L129.35,656.4 L131.1,668.23 L131.85,678.74 L132.6,682.9 L133.6,686.36 L134.6,688.49 L135.85,690.07 L136.85,690.81 L138.1,691.3 L140.6,691.75 L142.85,692.39 L146.6,693.07 L149.35,694.55 L150.6,695.05 L154.6,695.97 L156.6,696.15 L162.1,695.59 L164.35,695.18 L170.1,693.29 L175.6,691.86 L183.1,689.23 L184.85,688.76 L187.35,688.36 L188.85,688.29 L191.6,688.62 L192.85,689 L195.35,690.22 L197.35,691.63 L198.85,693 L201.35,695.7 L207.6,703.29 L218.1,717.23 L221.35,721.02 L223.85,723.6 L227.1,726.22 L230.6,728.4 L234.85,730.32 L236.6,730.91 L238.6,731.4 L242.85,732.16 L251.1,733.27 L256.85,733.9 L262.1,734.29 L287.35,735.25 L300.35,736.34 L317.35,737.31 L338.1,737.79 L357.6,738" stroke="#c3c3c3" stroke-width="2.7"/>
<path d="M67.6,460.56 L70.6,476.76 L71.85,480.93 L72.85,483.09 L74.35,485.24 L75.35,486.22 L77.35,487.62 L78.35,488.8 L78.85,490.13 L79.35,492.23 L80.1,496.69 L82.1,511.25 L85.1,528.97 L92.1,579.7 L92.85,584.01 L93.6,587.32 L94.35,589.62 L95.1,591.21 L96.85,594.21 L98.35,596.33 L100.1,599.53 L101.1,600.76 L101.6,601.01 L102.1,601.08 L103.6,600.74 L104.6,600.65 L105.35,600.34 L105.85,599.87 L106.6,598.83 L107.1,597.83 L108.6,593.3 L111.6,585.87 L114.6,575.98 L116.1,571.69 L117.6,566.78 L118.35,564.84 L119.6,562.85 L120.85,561.9 L121.85,561.51 L122.35,561.56 L122.85,561.94 L123.1,562.44 L123.6,564.98 L124.35,571.27 L127.1,609.04 L129.6,636.62 L130.85,647.49 L131.1,650.73 L131.85,667.23 L132.35,671.71 L133.35,677.32 L133.85,679.27 L134.6,681.47 L135.6,683.62 L136.6,685.2 L137.85,686.59 L140.85,689.11 L145.35,694.16 L146.85,696.15 L150.1,701.53 L153.85,705.65 L155.35,706.93 L156.85,707.76 L160.6,708.73 L163.35,709.05 L164.85,708.96 L170.1,708.01 L174.85,707.33 L183.6,705.5 L186.35,705.15 L188.85,705.02 L191.35,705.2 L192.85,705.46 L194.85,706.04 L198.1,707.49 L202.35,710.44 L207.6,714.75 L218.1,723.97 L221.35,726.49 L223.85,728.22 L227.1,729.98 L230.35,731.34 L234.6,732.66 L238.1,733.38 L242.35,733.93 L249.6,734.6 L261.85,735.4 L287.6,736.08 L300.35,736.79 L317.6,737.45 L357.6,738" stroke="#c3c3c3" stroke-width="2.7"/>
<path d="M67.6,447.81 L70.6,468.51 L71.85,473.78 L73.1,477.24 L74.6,480.16 L75.85,481.91 L77.85,483.88 L78.6,484.95 L79.35,487.18 L79.85,489.72 L80.85,496.34 L82.1,506.13 L84.85,524.45 L89.35,561.44 L91.35,579.15 L92.6,588.49 L93.35,593.28 L94.35,598.47 L95.35,602.53 L96.85,607.73 L99.85,616.54 L100.6,618.16 L101.1,618.79 L101.35,618.94 L101.85,618.93 L102.6,618.47 L104.6,616.21 L105.35,614.91 L106.1,613.06 L106.85,610.73 L108.6,602.08 L112.1,587.53 L115.35,572.28 L117.6,560.24 L118.6,555.92 L119.85,552.08 L120.85,550.15 L121.6,549.45 L122.1,549.25 L122.6,549.34 L123.1,549.86 L123.6,551.51 L124.35,555.96 L125.1,562.48 L125.85,570.79 L128.35,600.64 L129.6,618.05 L130.85,631.6 L131.1,635.79 L131.85,657.39 L132.1,660.79 L132.85,667.08 L133.6,671.51 L134.85,676.25 L136.35,680.04 L137.6,682.25 L140.85,686.81 L142.85,690.45 L146.35,697.49 L149.35,705.39 L150.6,708.28 L153.85,714.06 L155.1,715.88 L156.1,717.04 L157.35,718.02 L160.35,719.69 L162.35,720.47 L164.1,720.83 L174.85,720.36 L184.1,719.49 L187.85,719.31 L192.35,719.46 L196.85,720.17 L199.35,720.89 L203.1,722.39 L217.85,729.62 L223.85,732.17 L226.85,733.12 L229.85,733.87 L234.1,734.65 L237.6,735.12 L246.85,735.76 L261.6,736.35 L287.85,736.78 L317.85,737.56 L357.6,738" stroke="#c3c3c3" stroke-width="2.7"/>
<path d="M67.6,442.52 L70.6,465.09 L71.85,470.81 L73.1,474.65 L74.6,477.93 L76.1,480.32 L78.1,482.4 L78.85,483.64 L79.35,485.08 L79.85,487.5 L80.85,493.93 L82.1,504 L84.85,523.28 L89.35,562.24 L91.35,581 L93.1,594.47 L94.35,602.14 L95.6,608.17 L96.85,613.33 L99.6,623 L100.35,625.08 L100.85,626 L101.35,626.41 L102.1,626.19 L103.1,625.05 L104.6,622.66 L105.35,620.95 L106.1,618.66 L107.1,614.62 L108.6,605.72 L111.35,592.57 L113.6,581.02 L115.6,570.15 L117.85,556.09 L118.6,552.42 L119.85,547.72 L120.85,545.27 L121.6,544.43 L122.1,544.17 L122.6,544.22 L123.1,544.64 L123.6,545.93 L124.1,548.17 L125.1,554.84 L125.85,562.05 L127.6,582.12 L128.6,595.07 L129.6,610.35 L130.85,625.01 L131.1,629.59 L131.85,653.31 L132.1,657.02 L132.85,663.86 L133.6,668.67 L134.85,673.84 L136.35,678.05 L137.6,680.55 L140.85,685.85 L144.1,692.88 L146.6,699.04 L150.1,709.57 L151.6,712.98 L154.35,718.44 L155.6,720.39 L156.6,721.57 L158.6,723.12 L160.85,724.53 L162.6,725.32 L164.35,725.75 L174.85,725.76 L188.85,725.23 L193.35,725.38 L198.35,725.91 L203.35,727.18 L217.6,731.96 L223.85,733.8 L229.35,734.92 L237.1,735.83 L244.6,736.27 L261.1,736.74 L318.35,737.61 L357.6,738" stroke="#c3c3c3" stroke-width="2.7"/>
<path d="M67.6,439.41 L70.6,463.08 L71.85,469.07 L73.1,473.12 L74.85,477.11 L76.35,479.55 L78.35,481.67 L79.1,483.08 L79.6,484.92 L80.1,487.65 L80.85,492.52 L82.1,502.75 L84.85,522.58 L89.35,562.71 L91.35,582.09 L93.35,597.85 L94.6,605.72 L96.1,613.33 L97.1,617.64 L99.85,628.02 L100.6,629.97 L101.1,630.67 L101.6,630.79 L102.1,630.52 L103.1,629.22 L104.6,626.45 L105.85,622.87 L107.1,617.51 L108.6,607.86 L111.6,592.27 L114.1,578.48 L115.6,569.63 L117.6,555.94 L118.6,550.37 L119.85,545.15 L120.85,542.41 L121.6,541.47 L122.1,541.18 L122.6,541.2 L122.85,541.34 L123.35,541.98 L123.85,543.54 L124.35,545.87 L125.35,552.26 L127.6,576.57 L128.6,589.92 L129.6,605.82 L130.85,621.14 L131.1,625.94 L131.85,650.91 L132.1,654.81 L132.85,661.97 L133.6,667 L134.6,671.52 L136.1,676.24 L137.6,679.55 L140.85,685.29 L143.85,692.28 L146.35,698.86 L149.35,708.68 L150.6,712.29 L154.1,720.09 L155.35,722.3 L156.6,723.97 L158.6,725.69 L160.85,727.25 L162.6,728.14 L164.35,728.63 L174.85,728.94 L191.1,728.73 L198.35,729.07 L203.35,729.93 L212.35,732.19 L223.85,734.76 L229.1,735.57 L236.35,736.23 L244.1,736.61 L260.35,736.97 L357.6,738" stroke="#c3c3c3" stroke-width="2.7"/>
<path d="M67.6,436.3 L70.6,461.07 L71.85,467.32 L73.1,471.59 L74.85,475.83 L76.35,478.47 L78.35,480.62 L79.1,481.9 L79.6,483.64 L80.1,486.32 L80.85,491.1 L82.1,501.5 L84.6,519.75 L89.1,560.82 L91.35,583.18 L93.35,599.54 L94.6,608 L96.1,616.34 L97.1,621.03 L99.85,632.28 L100.6,634.34 L101.1,635.07 L101.6,635.17 L102.1,634.85 L103.1,633.4 L104.35,630.81 L105.6,627.19 L106.6,623.06 L107.1,620.41 L108.6,610 L114.85,574.38 L117.1,559.69 L118.1,554.05 L119.35,549.54 L120.1,547.49 L120.6,546.5 L121.35,545.7 L122.35,545.02 L123.1,544.8 L123.35,544.84 L123.6,545.08 L124.1,546.09 L124.85,548.46 L125.6,552.33 L126.35,558.82 L127.6,571.88 L128.6,585.15 L129.6,601.44 L130.85,617.31 L131.1,622.33 L131.85,648.53 L132.1,652.6 L132.85,660.08 L133.85,666.71 L134.85,671 L136.35,675.7 L137.6,678.56 L141.1,685.29 L144.85,694.99 L146.6,700.16 L149.35,709.9 L150.6,713.78 L152.85,719.38 L154.35,722.69 L155.6,724.97 L156.85,726.65 L159.1,728.67 L161.1,730.13 L162.85,731.06 L164.6,731.56 L170.1,731.93 L176.35,732.15 L197.6,732.2 L199.85,732.3 L203.6,732.72 L212.1,734.11 L224.1,735.76 L228.35,736.21 L234.1,736.58 L243.1,736.96 L256.6,737.17 L357.8,738" stroke="#f00" stroke-width="3"/>
</g>
<rect x="68.5" y="11.0" width="411" height="331.4" fill="none" stroke="#111" stroke-width="1.45"/>
<path d="M116.85,342.4v6.3M116.85,11v6.3M177.29,342.4v6.3M177.29,11v6.3M237.74,342.4v6.3M237.74,11v6.3M298.18,342.4v6.3M298.18,11v6.3M358.62,342.4v6.3M358.62,11v6.3M419.06,342.4v6.3M419.06,11v6.3M479.5,342.4v6.3M479.5,11v6.3M86.63,342.4v3.2M86.63,11v3.2M147.07,342.4v3.2M147.07,11v3.2M207.51,342.4v3.2M207.51,11v3.2M267.96,342.4v3.2M267.96,11v3.2M328.4,342.4v3.2M328.4,11v3.2M388.84,342.4v3.2M388.84,11v3.2M449.28,342.4v3.2M449.28,11v3.2M68.5,342.4h-6.3M479.5,342.4h-6.3M68.5,287.17h-6.3M479.5,287.17h-6.3M68.5,231.93h-6.3M479.5,231.93h-6.3M68.5,176.7h-6.3M479.5,176.7h-6.3M68.5,121.47h-6.3M479.5,121.47h-6.3M68.5,66.23h-6.3M479.5,66.23h-6.3M68.5,11h-6.3M479.5,11h-6.3M68.5,314.78h-3.2M479.5,314.78h-3.2M68.5,259.55h-3.2M479.5,259.55h-3.2M68.5,204.32h-3.2M479.5,204.32h-3.2M68.5,149.08h-3.2M479.5,149.08h-3.2M68.5,93.85h-3.2M479.5,93.85h-3.2M68.5,38.62h-3.2M479.5,38.62h-3.2" stroke="#111" stroke-width="1.45" fill="none"/>
<rect x="67.6" y="408.1" width="411.1" height="331.1" fill="none" stroke="#111" stroke-width="1.45"/>
<path d="M115.96,739.2v6.3M115.96,408.1v6.3M176.42,739.2v6.3M176.42,408.1v6.3M236.88,739.2v6.3M236.88,408.1v6.3M297.33,739.2v6.3M297.33,408.1v6.3M357.79,739.2v6.3M357.79,408.1v6.3M418.24,739.2v6.3M418.24,408.1v6.3M478.7,739.2v6.3M478.7,408.1v6.3M85.74,739.2v3.2M85.74,408.1v3.2M146.19,739.2v3.2M146.19,408.1v3.2M206.65,739.2v3.2M206.65,408.1v3.2M267.1,739.2v3.2M267.1,408.1v3.2M327.56,739.2v3.2M327.56,408.1v3.2M388.02,739.2v3.2M388.02,408.1v3.2M448.47,739.2v3.2M448.47,408.1v3.2M67.6,739.2h-6.3M478.7,739.2h-6.3M67.6,656.43h-6.3M478.7,656.43h-6.3M67.6,573.65h-6.3M478.7,573.65h-6.3M67.6,490.88h-6.3M478.7,490.88h-6.3M67.6,408.1h-6.3M478.7,408.1h-6.3M67.6,697.81h-3.2M478.7,697.81h-3.2M67.6,615.04h-3.2M478.7,615.04h-3.2M67.6,532.26h-3.2M478.7,532.26h-3.2M67.6,449.49h-3.2M478.7,449.49h-3.2" stroke="#111" stroke-width="1.45" fill="none"/>
<g font-family="Liberation Sans, sans-serif" font-size="14.4" fill="#1c1c1c" stroke="#1c1c1c" stroke-width="0.25">
<text x="57.8" y="347.25" text-anchor="end">0,0</text>
<text x="57.8" y="292.02" text-anchor="end">0,5</text>
<path d="M41.88,236.78 L43.15,236.78 L43.15,226.88 L42.14,226.88 L39.4,228.7 L39.4,229.86 L41.88,228.24Z"/><text x="45.79" y="236.78">,0</text>
<path d="M41.88,181.55 L43.15,181.55 L43.15,171.64 L42.14,171.64 L39.4,173.46 L39.4,174.62 L41.88,173.01Z"/><text x="45.79" y="181.55">,5</text>
<text x="57.8" y="126.32" text-anchor="end">2,0</text>
<text x="57.8" y="71.08" text-anchor="end">2,5</text>
<text x="57.8" y="15.85" text-anchor="end">3,0</text>
<text x="57" y="744.05" text-anchor="end">0,0</text>
<text x="57" y="661.28" text-anchor="end">0,5</text>
<path d="M41.08,578.5 L42.35,578.5 L42.35,568.59 L41.34,568.59 L38.6,570.41 L38.6,571.57 L41.08,569.96Z"/><text x="44.99" y="578.5">,0</text>
<path d="M41.08,495.73 L42.35,495.73 L42.35,485.82 L41.34,485.82 L38.6,487.64 L38.6,488.8 L41.08,487.18Z"/><text x="44.99" y="495.73">,5</text>
<text x="57" y="412.95" text-anchor="end">2,0</text>
<text x="116.85" y="364.7" text-anchor="middle">300</text>
<text x="115.96" y="761.5" text-anchor="middle">300</text>
<text x="177.29" y="364.7" text-anchor="middle">400</text>
<text x="176.42" y="761.5" text-anchor="middle">400</text>
<text x="237.74" y="364.7" text-anchor="middle">500</text>
<text x="236.88" y="761.5" text-anchor="middle">500</text>
<text x="298.18" y="364.7" text-anchor="middle">600</text>
<text x="297.33" y="761.5" text-anchor="middle">600</text>
<text x="358.62" y="364.7" text-anchor="middle">700</text>
<text x="357.79" y="761.5" text-anchor="middle">700</text>
<text x="419.06" y="364.7" text-anchor="middle">800</text>
<text x="418.24" y="761.5" text-anchor="middle">800</text>
<text x="479.5" y="364.7" text-anchor="middle">900</text>
<text x="478.7" y="761.5" text-anchor="middle">900</text>
</g>
<g font-family="Liberation Sans, sans-serif" font-size="17.4" fill="#1c1c1c" stroke="#1c1c1c" stroke-width="0.25">
<text x="274.7" y="390.9" text-anchor="middle">Wavelength (nm)</text>
<text x="273.9" y="787.3" text-anchor="middle">Wavelength (nm)</text>
<text transform="translate(18.6,176.9) rotate(-90)" text-anchor="middle">Absorbance</text>
<text transform="translate(17.6,569.3) rotate(-90)" text-anchor="middle">Absorbance</text>
</g>
<g font-family="Liberation Sans, sans-serif" font-size="22" fill="#111" stroke="#111" stroke-width="0.2"><text x="5.3" y="20.9">a<tspan dx="0.4">)</tspan></text><text x="5.3" y="418.3">b<tspan dx="0.4">)</tspan></text></g>
<g>
<path d="M156.1,156.2V191.3" stroke="#000" stroke-width="2.7"/><path d="M148.6,190.3H163.6L156.1,204.8Z" fill="#000"/>
<path d="M178,165.5V133" stroke="#000" stroke-width="2.7"/><path d="M170.5,134H185.5L178,119.5Z" fill="#000"/>
<path d="M253.1,199.9V234.9" stroke="#000" stroke-width="2.7"/><path d="M245.6,233.9H260.6L253.1,248.4Z" fill="#000"/>
<path d="M287.3,246.5V214" stroke="#000" stroke-width="2.7"/><path d="M279.8,215H294.8L287.3,200.5Z" fill="#000"/>
<path d="M100.6,483.9V519.3" stroke="#000" stroke-width="2.7"/><path d="M93.1,518.3H108.1L100.6,532.8Z" fill="#000"/>
<path d="M126.2,526V493.2" stroke="#000" stroke-width="2.7"/><path d="M118.7,494.2H133.7L126.2,479.7Z" fill="#000"/>
<path d="M190.4,607.7V642.8" stroke="#000" stroke-width="2.7"/><path d="M182.9,641.8H197.9L190.4,656.3Z" fill="#000"/>
</g>
</svg>
</body></html>
